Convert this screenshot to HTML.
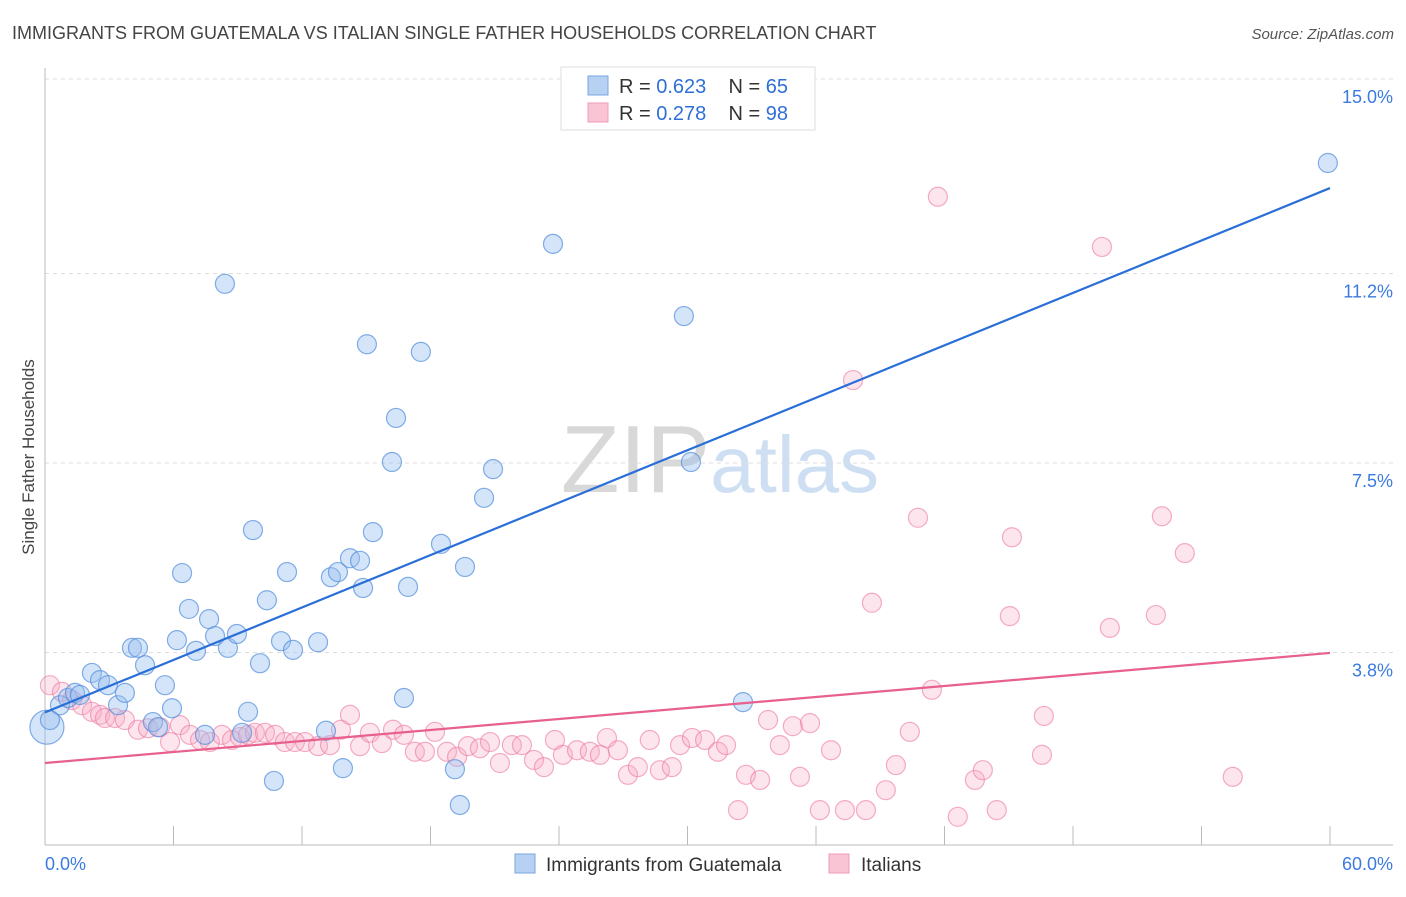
<!DOCTYPE html>
<html><head><meta charset="utf-8"><style>
body{margin:0;background:#fff;font-family:"Liberation Sans",sans-serif;}
svg text{font-family:"Liberation Sans",sans-serif;}
</style></head><body>
<svg id="chart" width="1406" height="892" viewBox="0 0 1406 892" xmlns="http://www.w3.org/2000/svg">
<text x="12" y="39" font-size="18" fill="#444">IMMIGRANTS FROM GUATEMALA VS ITALIAN SINGLE FATHER HOUSEHOLDS CORRELATION CHART</text>
<text x="1394" y="39" font-size="15" fill="#555" text-anchor="end" font-style="italic">Source: ZipAtlas.com</text>
<text x="720" y="492" font-size="96" text-anchor="middle" fill="#ddd" font-family="Liberation Serif"><tspan fill="#d8d8d8">ZIP</tspan><tspan fill="#cfdff3" font-family="Liberation Sans" font-size="80">atlas</tspan></text>
<g id="grid"></g>
<g id="axes"></g>
<g id="pts"></g>
<g id="lines"></g>
<text transform="translate(34,457) rotate(-90)" font-size="17" fill="#444" text-anchor="middle">Single Father Households</text>
<g>
<rect x="561" y="67" width="254" height="63" fill="#fff" stroke="#ddd"/>
<rect x="588" y="76" width="20" height="19" fill="#b7d1f3" stroke="#7aa6e0"/>
<rect x="588" y="103" width="20" height="19" fill="#f9c5d4" stroke="#f09ab5"/>
<text x="619" y="93" font-size="20" fill="#333" xml:space="preserve">R = <tspan fill="#2f6fd6">0.623</tspan>    N = <tspan fill="#2f6fd6">65</tspan></text>
<text x="619" y="120" font-size="20" fill="#333" xml:space="preserve">R = <tspan fill="#2f6fd6">0.278</tspan>    N = <tspan fill="#2f6fd6">98</tspan></text>
</g>
<g>
<rect x="515" y="854" width="20" height="19" fill="#b7d1f3" stroke="#7aa6e0"/>
<text x="546" y="871" font-size="19" fill="#333">Immigrants from Guatemala</text>
<rect x="829" y="854" width="20" height="19" fill="#f9c5d4" stroke="#f09ab5"/>
<text x="861" y="871" font-size="19" fill="#333">Italians</text>
</g>
</svg>
<script>
const xTicks=[0,6,12,18,24,30,36,42,48,54,60];
const yTicks=[3.8,7.5,11.2,15.0];
const yTickLabels=["3.8%","7.5%","11.2%","15.0%"];
const xLabels=["0.0%","60.0%"];
const blueX=[0.09,0.23,0.70,1.07,1.40,1.63,2.19,2.57,2.94,3.41,3.73,4.06,4.34,4.67,5.04,5.28,5.60,5.93,6.16,6.40,6.72,7.05,7.47,7.66,7.94,8.40,8.54,8.96,9.20,9.48,9.71,10.04,10.36,10.69,11.02,11.30,11.58,12.75,13.12,13.35,13.68,13.91,14.24,14.71,14.85,15.03,15.31,16.20,16.39,16.76,16.95,17.55,18.49,19.14,19.37,19.61,20.50,20.92,23.72,29.83,30.16,32.59,59.90];
const blueY=[2.34,2.48,2.77,2.91,3.01,2.97,3.40,3.26,3.16,2.77,3.01,3.89,3.89,3.55,2.44,2.34,3.16,2.71,4.04,5.35,4.65,3.83,2.19,4.45,4.12,11.00,3.89,4.16,2.23,2.64,6.19,3.59,4.82,1.29,4.02,5.37,3.85,4.00,2.27,5.27,5.37,1.54,5.64,5.59,5.06,9.82,6.15,7.52,8.38,2.91,5.08,9.67,5.92,1.52,0.82,5.47,6.82,7.38,11.78,10.37,7.52,2.83,13.36];
const pinkX=[0.23,0.79,1.26,1.73,2.19,2.57,2.80,3.27,3.73,4.34,4.81,5.37,5.84,6.30,6.77,7.24,7.70,8.26,8.73,9.10,9.48,9.80,10.27,10.74,11.20,11.67,12.14,12.75,13.31,13.82,14.24,14.71,15.17,15.73,16.25,16.76,17.27,17.74,18.21,18.77,19.24,19.75,20.31,20.78,21.24,21.80,22.27,22.83,23.30,23.81,24.18,24.84,25.44,25.91,26.24,26.75,27.22,27.68,28.24,28.71,29.27,29.65,30.21,30.82,31.42,31.80,32.36,32.73,33.39,33.76,34.31,34.92,35.25,35.72,36.18,36.70,37.35,37.73,38.33,38.61,39.26,39.73,40.38,40.76,41.41,41.69,42.62,43.42,43.79,44.44,45.05,45.15,46.55,46.64,49.35,49.72,51.87,52.15,53.22,55.46];
const pinkY=[3.16,3.03,2.87,2.77,2.64,2.58,2.52,2.52,2.48,2.29,2.32,2.34,2.05,2.38,2.19,2.09,2.05,2.19,2.09,2.15,2.19,2.23,2.23,2.19,2.05,2.05,2.05,1.97,1.99,2.29,2.58,1.97,2.23,2.03,2.29,2.19,1.86,1.86,2.25,1.86,1.76,1.97,1.93,2.05,1.64,1.99,1.99,1.70,1.56,2.09,1.80,1.89,1.86,1.80,2.13,1.89,1.41,1.56,2.09,1.50,1.56,1.99,2.13,2.09,1.86,1.99,0.72,1.41,1.31,2.48,1.99,2.36,1.37,2.42,0.72,1.89,0.72,9.12,0.72,4.77,1.11,1.60,2.25,6.43,3.07,12.70,0.59,1.31,1.50,0.72,4.51,6.05,1.80,2.56,11.72,4.28,4.53,6.46,5.74,1.37];
const blueTrend=[2.63,12.87];
const pinkTrend=[1.64,3.79];
const trendX=[0,60];
const NS="http://www.w3.org/2000/svg";
const X=v=>45+v*(1285/60);
const Y=v=>847-v*51.2;
function mk(tag,attrs,parent){const e=document.createElementNS(NS,tag);for(const k in attrs)e.setAttribute(k,attrs[k]);parent.appendChild(e);return e;}
const grid=document.getElementById('grid'),axes=document.getElementById('axes'),pts=document.getElementById('pts'),lines=document.getElementById('lines');
yTicks.forEach((t,i)=>{
 const l=mk('line',{x1:45,x2:1393,y1:Y(t),y2:Y(t),stroke:'#ddd','stroke-dasharray':'4,4'},grid);
 
 
 const tx=mk('text',{x:1393,y:Y(t)+24,'font-size':18,fill:'#3b7be0','text-anchor':'end'},grid);
 tx.textContent=yTickLabels[i];
 
 
});
const ax=mk('line',{x1:45,x2:1393,y1:845,y2:845,stroke:'#bbb'},axes);


const ay=mk('line',{x1:45,x2:45,y1:68,y2:845,stroke:'#bbb'},axes);


xTicks.forEach(t=>{const l=mk('line',{x1:X(t),x2:X(t),y1:826,y2:845,stroke:'#bbb'},axes);
 
 });
[[0,'start',45],[60,'end',1393]].forEach((d,i)=>{const tx=mk('text',{x:d[2],y:870,'font-size':18,fill:'#3b7be0','text-anchor':d[1]},axes);tx.textContent=xLabels[i];
 
 });
pinkX.forEach((x,i)=>{const c=mk('circle',{cx:X(x),cy:Y(pinkY[i]),r:9.5,fill:'rgba(247,170,195,0.3)',stroke:'rgba(236,120,160,0.6)','stroke-width':1.2},pts);
 
 });
blueX.forEach((x,i)=>{const c=mk('circle',{cx:X(x),cy:Y(blueY[i]),r:i===0?17:9.5,fill:'rgba(150,190,240,0.4)',stroke:'rgba(80,140,220,0.7)','stroke-width':1.2},pts);
 
 });
const bl=mk('line',{x1:X(trendX[0]),y1:Y(blueTrend[0]),x2:X(trendX[1]),y2:Y(blueTrend[1]),stroke:'#2a6fd8','stroke-width':2.2},lines);


const pl=mk('line',{x1:X(trendX[0]),y1:Y(pinkTrend[0]),x2:X(trendX[1]),y2:Y(pinkTrend[1]),stroke:'#e8608e','stroke-width':2.2},lines);


</script>
</body></html>
